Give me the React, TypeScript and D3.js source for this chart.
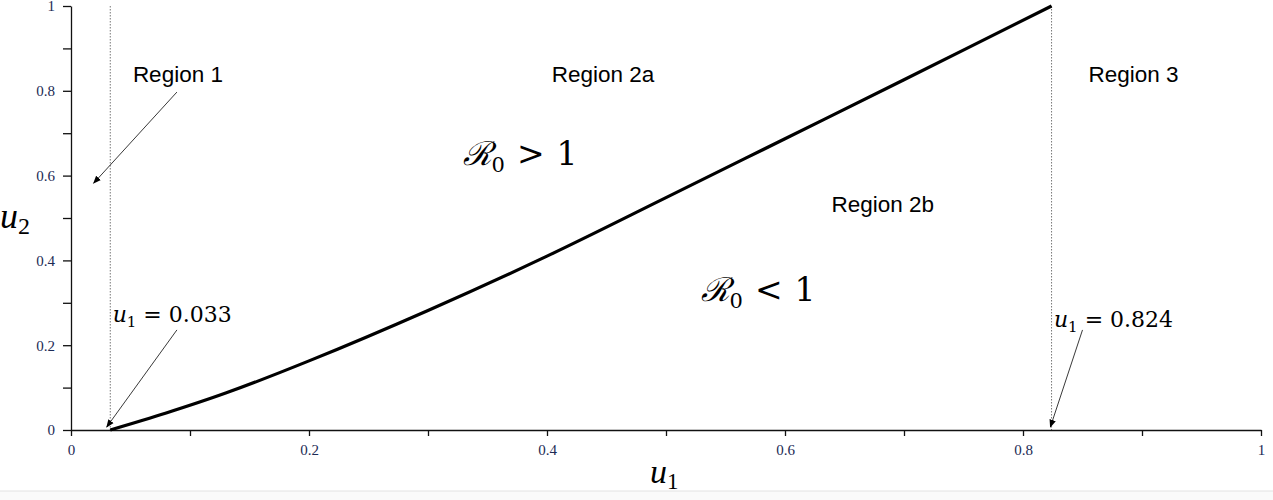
import React, { useEffect, useRef } from "react";
import * as d3 from "d3";

// boundary curve R0 = 1
const u1Values = [0.033, 0.08, 0.13, 0.2, 0.3, 0.4, 0.5, 0.6, 0.7, 0.824];
const u2Values = [0, 0.04, 0.087, 0.163, 0.282, 0.41, 0.548, 0.687, 0.826, 1.0];
const thresholds = [0.033, 0.824];
const tickValues = [0, 0.1, 0.2, 0.3, 0.4, 0.5, 0.6, 0.7, 0.8, 0.9, 1];

const regionLabels = [
  { text: "Region 1", u1: 0.052, u2: 0.821 },
  { text: "Region 2a", u1: 0.404, u2: 0.821 },
  { text: "Region 3", u1: 0.855, u2: 0.821 },
  { text: "Region 2b", u1: 0.639, u2: 0.514 },
];
const r0Labels = [
  { sign: ">", u1: 0.329, u2: 0.625 },
  { sign: "<", u1: 0.529, u2: 0.304 },
];
const thresholdLabels = [
  { value: "0.033", u1: 0.035, u2: 0.255 },
  { value: "0.824", u1: 0.826, u2: 0.243 },
];
const arrows = [
  { from: [0.089, 0.797], to: [0.019, 0.582] },
  { from: [0.089, 0.236], to: [0.03, 0.007] },
  { from: [0.85, 0.236], to: [0.823, 0.007] },
];

const width = 1273;
const height = 500;
const margin = { top: 6, right: 12, bottom: 70, left: 71 };

const App = () => {
  const xRef = useRef<SVGGElement>(null);
  const yRef = useRef<SVGGElement>(null);

  const x = d3.scaleLinear().domain([0, 1]).range([margin.left, width - margin.right]);
  const y = d3.scaleLinear().domain([0, 1]).range([height - margin.bottom, margin.top]);

  const fmt = (d: number) => (Math.round(d * 10) % 2 === 0 ? d3.format("~g")(d) : "");

  useEffect(() => {
    const styleAxis = (g: any) => {
      g.select(".domain").attr("stroke", "#111").attr("stroke-width", 1.3);
      g.selectAll(".tick line").attr("stroke", "#111").attr("stroke-width", 1.3);
      g.selectAll(".tick text")
        .attr("fill", "#1c2a55")
        .style("font-family", "'Liberation Serif', serif")
        .style("font-size", "15px");
    };
    d3.select(xRef.current)
      .call(d3.axisBottom(x).tickValues(tickValues).tickSize(6).tickSizeOuter(0).tickPadding(8).tickFormat(fmt as any))
      .call(styleAxis);
    d3.select(yRef.current)
      .call(d3.axisLeft(y).tickValues(tickValues).tickSize(8).tickSizeOuter(0).tickPadding(8).tickFormat(fmt as any))
      .call(styleAxis);
  });

  const line = d3
    .line<number>()
    .x((d) => x(d))
    .y((_, i) => y(u2Values[i]))
    .curve(d3.curveCatmullRom);

  return (
    <svg width={width} height={height} style={{ position: "absolute", left: 0, top: 0, background: "#fff" }}>
      <defs>
        <marker id="head" viewBox="0 0 10 10" refX="9" refY="5" markerWidth="9" markerHeight="9" orient="auto">
          <path d="M0,1 L10,5 L0,9 z" fill="#000" />
        </marker>
      </defs>
      <rect x={0} y={491} width={width} height={9} fill="#fafafa" />
      <line x1={0} x2={width} y1={491} y2={491} stroke="#e2e2e2" />

      {thresholds.map((t) => (
        <line key={t} x1={x(t)} x2={x(t)} y1={y(1)} y2={y(0)} stroke="#555" strokeWidth={0.8} strokeDasharray="1.5,1.5" />
      ))}

      <g ref={xRef} transform={`translate(0,${y(0)})`} />
      <g ref={yRef} transform={`translate(${x(0)},0)`} />

      <path d={line(u1Values) || ""} fill="none" stroke="#000" strokeWidth={3.2} />

      {arrows.map((a, i) => (
        <line
          key={i}
          x1={x(a.from[0])}
          y1={y(a.from[1])}
          x2={x(a.to[0])}
          y2={y(a.to[1])}
          stroke="#222"
          strokeWidth={0.9}
          markerEnd="url(#head)"
        />
      ))}

      {regionLabels.map((r) => (
        <text key={r.text} x={x(r.u1)} y={y(r.u2)} fontFamily="Liberation Sans, Arial, sans-serif" fontSize={22.5} fill="#000">
          {r.text}
        </text>
      ))}

      {r0Labels.map((r) => (
        <text key={r.sign} x={x(r.u1)} y={y(r.u2)} fontFamily="DejaVu Serif, serif" fontSize={33} fill="#000">
          <tspan fontStyle="italic">ℛ</tspan>
          <tspan fontSize={21} dy={7}>0</tspan>
          <tspan dy={-7} dx={12}>{r.sign}</tspan>
          <tspan dx={12}>1</tspan>
        </text>
      ))}

      {thresholdLabels.map((t) => (
        <text key={t.value} x={x(t.u1)} y={y(t.u2)} fontFamily="DejaVu Serif, serif" fontSize={22} fill="#000">
          <tspan fontStyle="italic">u</tspan>
          <tspan fontSize={15} dy={5}>1</tspan>
          <tspan dy={-5}>{` = ${t.value}`}</tspan>
        </text>
      ))}

      <text x={0} y={228} fontFamily="Liberation Serif, serif" fontSize={36} fill="#000">
        <tspan fontStyle="italic">u</tspan>
        <tspan fontSize={24} dy={6}>2</tspan>
      </text>
      <text x={650} y={483} fontFamily="Liberation Serif, serif" fontSize={34} fill="#000">
        <tspan fontStyle="italic">u</tspan>
        <tspan fontSize={23} dy={6}>1</tspan>
      </text>
    </svg>
  );
};

export default App;
